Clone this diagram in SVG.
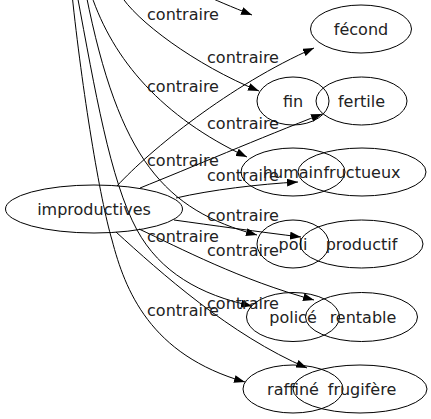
<svg xmlns="http://www.w3.org/2000/svg" width="431" height="419" viewBox="0 0 431 419">
<defs>
<style>
.n ellipse{fill:none;stroke:#000;stroke-width:1}
.n text,.lbl text{font-family:"DejaVu Sans",Verdana,sans-serif;font-size:16px;fill:#222;text-anchor:middle}
.e path{fill:none;stroke:#000;stroke-width:1;marker-end:url(#ah)}
</style>
<marker id="ah" markerWidth="11" markerHeight="8" refX="11" refY="4" orient="auto" markerUnits="userSpaceOnUse">
<polygon points="0,0 11,4 0,8" fill="#000"/>
</marker>
</defs>
<rect width="431" height="419" fill="#fff"/>
<g id="edges" class="e">
<path d="M198,-8 C215,0 232,7 252,15"/>
<path d="M120,-6 C135,20 195,65 259,91"/>
<path d="M91,-6 C113,60 162,117 247,157"/>
<path d="M86,-6 C119,160 165,210 257,235"/>
<path d="M77,-6 C95,90 110,180 137,230 C160,272 200,295 252,306"/>
<path d="M72,-6 C82,90 100,200 112,240 C125,290 150,355 245,382"/>
<path d="M117,186 C150,150 230,85 314,48"/>
<path d="M140,188 C190,168 260,138 322,114"/>
<path d="M176,198 C210,190 260,184 298,182"/>
<path d="M174,220 C210,225 260,232 301,237"/>
<path d="M139,229 C180,248 240,280 314,300"/>
<path d="M116,232 C160,272 230,335 307,368"/>
</g>
<g id="labels" class="lbl">
<text x="183" y="20">contraire</text>
<text x="243" y="63">contraire</text>
<text x="183" y="92">contraire</text>
<text x="243" y="129">contraire</text>
<text x="183" y="166">contraire</text>
<text x="243" y="181">contraire</text>
<text x="243" y="221">contraire</text>
<text x="183" y="242">contraire</text>
<text x="243" y="256">contraire</text>
<text x="243" y="309">contraire</text>
<text x="183" y="316">contraire</text>
</g>
<g id="improductives" class="n"><ellipse cx="94" cy="209" rx="88.5" ry="24"/><text x="94" y="215">improductives</text></g>
<g id="fecond" class="n"><ellipse cx="361" cy="29" rx="50.5" ry="24"/><text x="361" y="35">fécond</text></g>
<g id="fin" class="n"><ellipse cx="293" cy="101" rx="36" ry="24"/><text x="293" y="107">fin</text></g>
<g id="fertile" class="n"><ellipse cx="361.5" cy="101" rx="45.5" ry="24"/><text x="361.5" y="107">fertile</text></g>
<g id="humain" class="n"><ellipse cx="293" cy="172" rx="52" ry="24"/><text x="293" y="178">humain</text></g>
<g id="fructueux" class="n"><ellipse cx="362" cy="172" rx="64" ry="24"/><text x="362" y="178">fructueux</text></g>
<g id="poli" class="n"><ellipse cx="293" cy="244" rx="36" ry="24"/><text x="293" y="250">poli</text></g>
<g id="productif" class="n"><ellipse cx="361.5" cy="244" rx="61.5" ry="24"/><text x="361.5" y="250">productif</text></g>
<g id="police" class="n"><ellipse cx="293" cy="317" rx="46.5" ry="24.5"/><text x="293" y="323">policé</text></g>
<g id="rentable" class="n"><ellipse cx="361.5" cy="317" rx="56" ry="24.5"/><text x="363" y="323">rentable</text></g>
<g id="raffine" class="n"><ellipse cx="293" cy="389" rx="50" ry="24"/><text x="293" y="395">raffiné</text></g>
<g id="frugifere" class="n"><ellipse cx="360" cy="389" rx="67" ry="24"/><text x="362" y="395">frugifère</text></g>
</svg>
